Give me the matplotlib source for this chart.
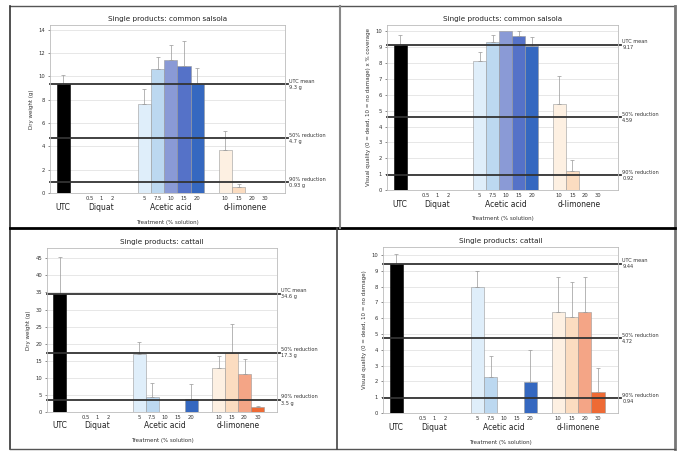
import numpy as np
import matplotlib
matplotlib.use("Agg")
import matplotlib.pyplot as plt
import matplotlib.transforms as mtransforms
from matplotlib.lines import Line2D

# categories
groups = ["UTC", "Diquat", "Acetic acid", "d-limonene"]
diquat_rates = ["0.5", "1", "2"]
acetic_rates = ["5", "7.5", "10", "15", "20"]
limonene_rates = ["10", "15", "20", "30"]

# panel 1: dry weight, common salsola
p1_utc, p1_utc_sd = 9.3, 0.8
p1_acetic = [7.6, 10.6, 11.4, 10.9, 9.3]
p1_acetic_sd = [1.3, 1.1, 1.3, 2.1, 1.4]
p1_limonene = [3.7, 0.5, 0, 0]
p1_limonene_sd = [1.6, 0.3, 0, 0]
p1_refs = [9.3, 4.7, 0.93]
p1_reflabels = ["UTC mean\n9.3 g", "50% reduction\n4.7 g", "90% reduction\n0.93 g"]

# panel 2: visual quality, common salsola
p2_utc, p2_utc_sd = 9.17, 0.6
p2_acetic = [8.1, 9.35, 10.0, 9.7, 9.05]
p2_acetic_sd = [0.6, 0.4, 0, 0.3, 0.6]
p2_limonene = [5.4, 1.17, 0, 0]
p2_limonene_sd = [1.8, 0.7, 0, 0]
p2_refs = [9.17, 4.59, 0.92]
p2_reflabels = ["UTC mean\n9.17", "50% reduction\n4.59", "90% reduction\n0.92"]

# panel 3: dry weight, cattail
p3_utc, p3_utc_sd = 34.6, 10.9
p3_acetic = [17.1, 4.5, 0, 0, 3.9]
p3_acetic_sd = [3.3, 4.0, 0, 0, 4.2]
p3_limonene = [13.0, 17.4, 11.2, 1.5]
p3_limonene_sd = [3.5, 8.4, 4.4, 0.3]
p3_refs = [34.6, 17.3, 3.5]
p3_reflabels = ["UTC mean\n34.6 g", "50% reduction\n17.3 g", "90% reduction\n3.5 g"]

# panel 4: visual quality, cattail
p4_utc, p4_utc_sd = 9.44, 0.6
p4_acetic = [8.0, 2.3, 0, 0, 1.97]
p4_acetic_sd = [1.0, 1.3, 0, 0, 2.0]
p4_limonene = [6.4, 6.1, 6.4, 1.34]
p4_limonene_sd = [2.2, 2.2, 2.2, 1.5]
p4_refs = [9.44, 4.72, 0.94]
p4_reflabels = ["UTC mean\n9.44", "50% reduction\n4.72", "90% reduction\n0.94"]

acetic_colors = ["#dfeefa", "#bcd8f0", "#8a9ad6", "#5572c8", "#3568c0"]
limonene_colors = ["#fdf0e2", "#fbdcc0", "#f4a586", "#ee6a35"]

# x layout
x_utc = 1.0
x_diquat = np.array([3.0, 3.85, 4.7])
x_acetic = 7.1 + np.arange(5)
x_limonene = 13.2 + np.arange(4)

W, H = 679, 453
fig = plt.figure(figsize=(W / 100, H / 100), dpi=100)


def panel(rect, title, ylabel, ylim, yticks, utc, utc_sd, ac, ac_sd, li, li_sd, refs, reflabels):
    l, t, r, b = rect
    ax = fig.add_axes([l / W, 1 - b / H, (r - l) / W, (b - t) / H])
    ax.set_xlim(0, 17.7)
    ax.set_ylim(*ylim)
    ax.set_yticks(yticks)
    ax.yaxis.grid(True, color="#dddddd", lw=0.5)
    ax.set_axisbelow(True)
    for s in ax.spines.values():
        s.set_color("#bbbbbb")
        s.set_linewidth(0.6)

    err_kw = dict(fmt="none", ecolor="#999999", elinewidth=0.5, capsize=1.2, capthick=0.5)
    ax.bar(x_utc, utc, width=1.0, color="black", edgecolor="black", lw=0.4)
    ax.errorbar([x_utc], [utc], yerr=[[0], [utc_sd]], **err_kw)
    for xs, vals, sds, cols in [(x_acetic, ac, ac_sd, acetic_colors),
                                (x_limonene, li, li_sd, limonene_colors)]:
        for x, v, sd, c in zip(xs, vals, sds, cols):
            if v <= 0:
                continue
            ax.bar(x, v, width=1.0, color=c, edgecolor="#9a9a9a", lw=0.4)
            if sd > 0:
                ax.errorbar([x], [v], yerr=[[0], [sd]], **err_kw)

    tr = mtransforms.blended_transform_factory(ax.transAxes, ax.transData)
    for val, lab in zip(refs, reflabels):
        ax.add_line(Line2D([0, 1.013], [val, val], transform=tr, color="#333333",
                           lw=1.3, clip_on=False))
        ax.text(1.018, val, lab, transform=tr, fontsize=3.6, va="center", ha="left",
                color="#333333", linespacing=1.3)

    xt = list(x_diquat) + list(x_acetic) + list(x_limonene)
    ax.set_xticks(xt)
    ax.set_xticklabels(diquat_rates + acetic_rates + limonene_rates, fontsize=3.8)
    ax.tick_params(axis="x", length=0, pad=2.5, colors="#333333")
    ax.tick_params(axis="y", labelsize=3.8, length=1.5, width=0.4, pad=2, colors="#333333")

    trx = mtransforms.blended_transform_factory(ax.transData, ax.transAxes)
    gx = [x_utc, x_diquat.mean(), x_acetic.mean(), x_limonene.mean()]
    for g, x in zip(groups, gx):
        ax.text(x, -0.085, g, transform=trx, fontsize=5.5, ha="center", va="center",
                color="#222222")
    ax.text(0.5, -0.175, "Treatment (% solution)", transform=ax.transAxes, fontsize=4,
            ha="center", va="center", color="#333333")
    ax.set_title(title, fontsize=5.2, pad=3, color="#222222")
    ax.set_ylabel(ylabel, fontsize=4, labelpad=3, color="#333333")
    return ax


panel((50, 25, 285, 193), "Single products: common salsola", "Dry weight (g)",
      (0, 14.4), np.arange(0, 15, 2), p1_utc, p1_utc_sd, p1_acetic, p1_acetic_sd,
      p1_limonene, p1_limonene_sd, p1_refs, p1_reflabels)
panel((387, 25, 618, 190), "Single products: common salsola",
      "Visual quality (0 = dead, 10 = no damage) x % coverage",
      (0, 10.4), np.arange(0, 11, 1), p2_utc, p2_utc_sd, p2_acetic, p2_acetic_sd,
      p2_limonene, p2_limonene_sd, p2_refs, p2_reflabels)
panel((47, 248, 277, 412), "Single products: cattail", "Dry weight (g)",
      (0, 48), np.arange(0, 46, 5), p3_utc, p3_utc_sd, p3_acetic, p3_acetic_sd,
      p3_limonene, p3_limonene_sd, p3_refs, p3_reflabels)
panel((383, 247, 618, 413), "Single products: cattail",
      "Visual quality (0 = dead, 10 = no damage)",
      (0, 10.5), np.arange(0, 11, 1), p4_utc, p4_utc_sd, p4_acetic, p4_acetic_sd,
      p4_limonene, p4_limonene_sd, p4_refs, p4_reflabels)


def fline(x0, y0, x1, y1, **kw):
    fig.add_artist(Line2D([x0 / W, x1 / W], [1 - y0 / H, 1 - y1 / H],
                          transform=fig.transFigure, **kw))


# panel frames
fline(10, 6, 675, 6, color="#555555", lw=1.0)
fline(10, 6, 10, 449, color="#333333", lw=1.2)
fline(675, 6, 675, 449, color="#777777", lw=2.0)
fline(10, 449, 675, 449, color="#555555", lw=1.0)
fline(10, 228, 675, 228, color="black", lw=2.0)
fline(340, 6, 340, 228, color="#888888", lw=1.5)
fline(337, 228, 337, 449, color="#444444", lw=1.2)

fig.savefig("out.png", dpi=100)
